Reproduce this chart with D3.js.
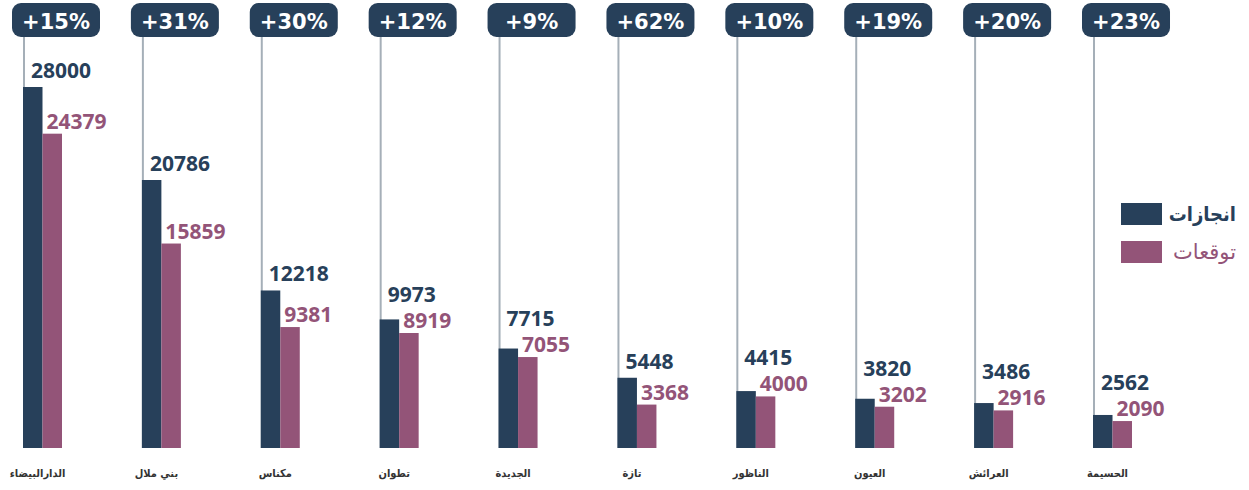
<!DOCTYPE html>
<html>
<head>
<meta charset="utf-8">
<script src="https://cdn.jsdelivr.net/npm/d3@7"></script>
<style>
  body { margin: 0; background: #fff; }
  svg { display: block; }
</style>
</head>
<body>
<svg id="chart"></svg>
<script>
const cities = ["الدارالبيضاء", "بني ملال", "مكناس", "تطوان", "الجديدة", "تازة", "الناظور", "العيون", "العرائش", "الحسيمة"];
const actual = [28000, 20786, 12218, 9973, 7715, 5448, 4415, 3820, 3486, 2562];
const forecast = [24379, 15859, 9381, 8919, 7055, 3368, 4000, 3202, 2916, 2090];
const growth = ["+15%", "+31%", "+30%", "+12%", "+9%", "+62%", "+10%", "+19%", "+20%", "+23%"];
const seriesNames = ["انجازات", "توقعات"];

const width = 1249, height = 490;
const dark = "#27405a", pink = "#935478", grey = "#a5afb8";

const svg = d3.select("#chart").attr("width", width).attr("height", height);

const x = d3.scaleBand().domain(cities).range([23, 1132]).paddingInner(0.672).paddingOuter(0);
const xs = d3.scaleBand().domain([0, 1]).range([0, x.bandwidth()]);
const y = d3.scaleLinear().domain([0, 28000]).range([448, 87]);

const rows = cities.map((c, i) => ({ city: c, vals: [actual[i], forecast[i]], pct: growth[i] }));

// grey stems from badges down to baseline
svg.append("g").selectAll("line")
    .data(rows)
    .join("line")
    .attr("x1", d => x(d.city) + 1)
    .attr("x2", d => x(d.city) + 1)
    .attr("y1", 30)
    .attr("y2", y(0))
    .attr("stroke", grey)
    .attr("stroke-width", 2);

// badges
const badge = svg.append("g").selectAll("g")
    .data(rows)
    .join("g")
    .attr("transform", d => `translate(${x(d.city) - 11}, 3)`);
badge.append("rect")
    .attr("width", 88)
    .attr("height", 34)
    .attr("rx", 9)
    .attr("fill", dark);
badge.append("text")
    .attr("x", 44)
    .attr("y", 26)
    .attr("text-anchor", "middle")
    .attr("fill", "#fff")
    .attr("font-family", "DejaVu Sans")
    .attr("font-weight", "bold")
    .attr("font-size", "21px")
    .text(d => d.pct);

// bars
const groups = svg.append("g").selectAll("g")
    .data(rows)
    .join("g")
    .attr("transform", d => `translate(${x(d.city)}, 0)`);

groups.selectAll("rect")
    .data(d => d.vals.map((v, k) => ({ v, k })))
    .join("rect")
    .attr("x", d => xs(d.k))
    .attr("y", d => y(d.v))
    .attr("width", xs.bandwidth())
    .attr("height", d => y(0) - y(d.v))
    .attr("fill", d => d.k === 0 ? dark : pink);

// value labels: pink sits just above its bar, dark stays above the pink label
const pinkBase = v => y(v) - 5;
groups.append("text")
    .attr("x", xs(1) + 4)
    .attr("y", d => pinkBase(d.vals[1]))
    .attr("fill", pink)
    .attr("font-family", "Open Sans")
    .attr("font-weight", "bold")
    .attr("font-size", "21px")
    .text(d => d.vals[1]);
groups.append("text")
    .attr("x", 8)
    .attr("y", d => Math.min(y(d.vals[0]) - 9, pinkBase(d.vals[1]) - 26))
    .attr("fill", dark)
    .attr("font-family", "Open Sans")
    .attr("font-weight", "bold")
    .attr("font-size", "21px")
    .text(d => d.vals[0]);

// city labels
svg.append("g").selectAll("text")
    .data(rows)
    .join("text")
    .attr("x", d => x(d.city) + x.bandwidth() / 2 - 5)
    .attr("y", 477)
    .attr("text-anchor", "middle")
    .attr("direction", "rtl")
    .attr("fill", "#333")
    .attr("font-family", "DejaVu Sans Condensed")
    .attr("font-weight", "bold")
    .attr("font-size", "11px")
    .text(d => d.city);

// legend
const legend = svg.append("g").selectAll("g")
    .data(seriesNames)
    .join("g")
    .attr("transform", (d, i) => `translate(1121, ${203 + i * 38})`);
legend.append("rect")
    .attr("width", 41)
    .attr("height", 22)
    .attr("fill", (d, i) => i === 0 ? dark : pink);
legend.append("text")
    .attr("x", 115)
    .attr("y", 18)
    .attr("text-anchor", "end")
    .attr("fill", (d, i) => i === 0 ? dark : pink)
    .attr("font-family", (d, i) => i === 0 ? "DejaVu Sans Condensed" : "DejaVu Sans")
    .attr("font-weight", (d, i) => i === 0 ? "bold" : "normal")
    .attr("font-size", (d, i) => i === 0 ? "20px" : "21px")
    .text(d => d);
</script>
</body>
</html>
